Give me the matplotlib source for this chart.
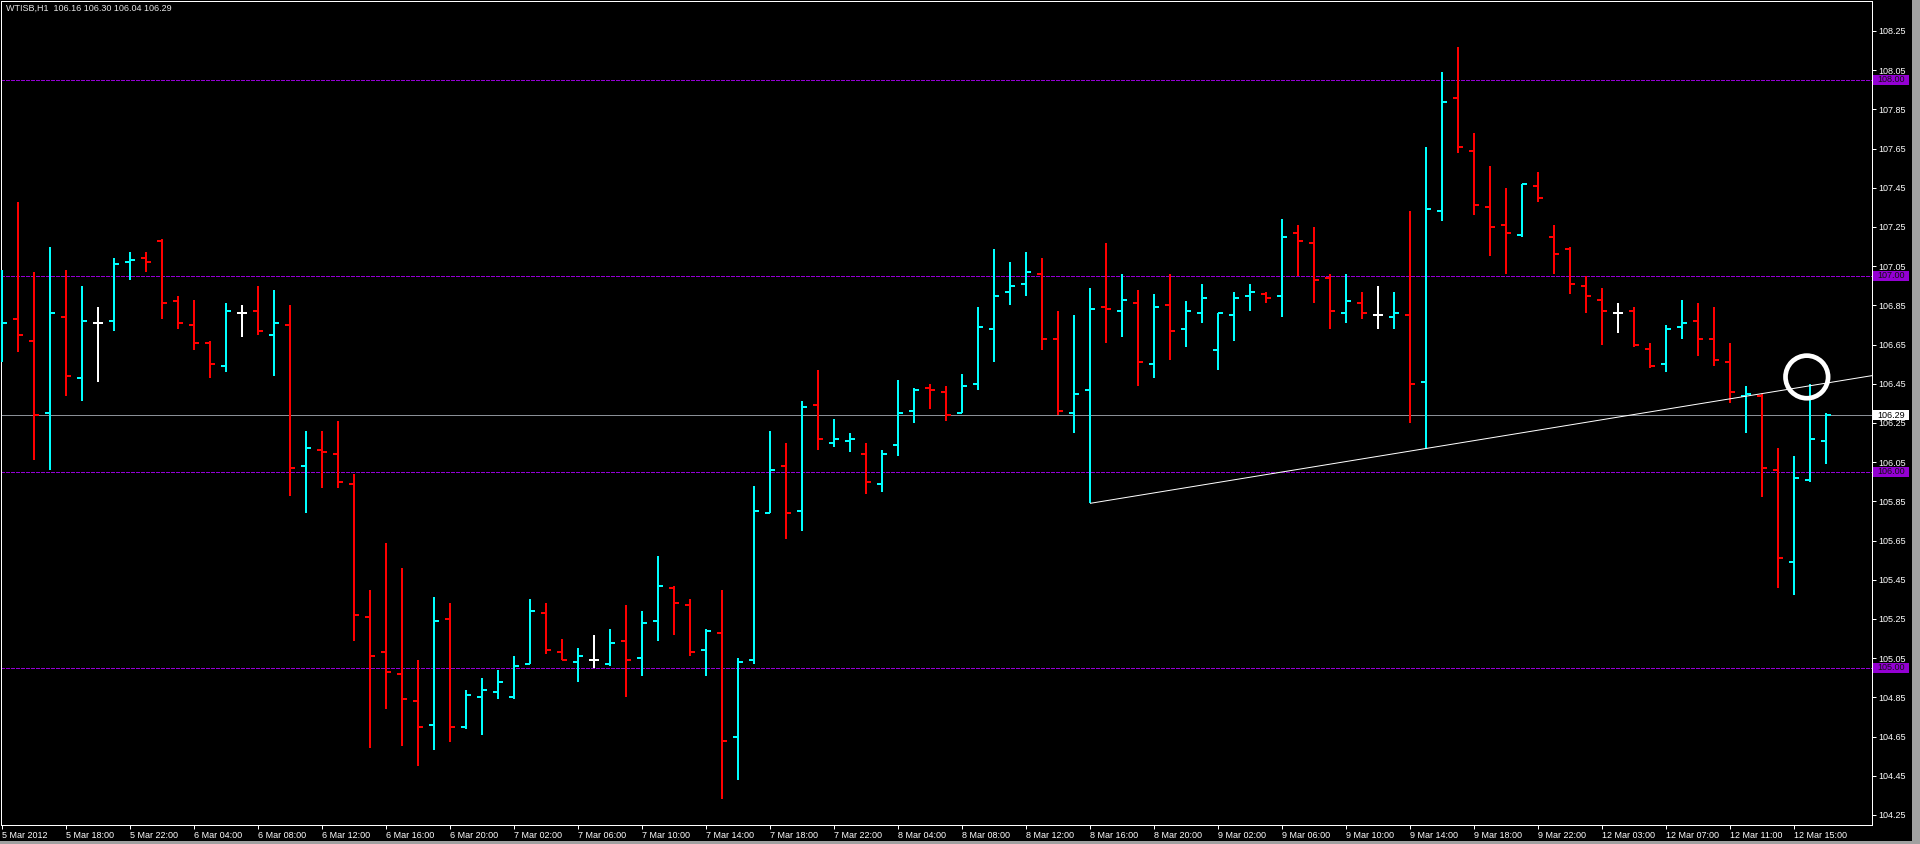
import matplotlib
matplotlib.use('Agg')
import matplotlib.pyplot as plt
from matplotlib.collections import LineCollection
from matplotlib.patches import Rectangle, Ellipse
import matplotlib.transforms as mtransforms
import numpy as np

plt.rcParams['font.family'] = ['Liberation Sans', 'DejaVu Sans']

symbol = "WTISB,H1"

opens = [106.65, 106.78, 106.67, 106.30, 106.79, 106.48, 106.76, 106.77, 107.07, 107.09,
         107.18, 106.87, 106.75, 106.66, 106.54, 106.81, 106.82, 106.70, 106.75, 106.03,
         106.11, 106.09, 105.94, 105.26, 105.08, 104.97, 104.83, 104.71, 105.25, 104.70,
         104.85, 104.88, 104.85, 105.02, 105.28, 105.08, 105.03, 105.04, 105.02, 105.14,
         105.05, 105.24, 105.41, 105.32, 105.09, 105.18, 104.65, 105.04, 105.79, 106.03,
         105.80, 106.34, 106.15, 106.16, 106.09, 105.94, 106.14, 106.31, 106.43, 106.41,
         106.30, 106.45, 106.73, 106.92, 106.96, 107.01, 106.68, 106.30, 106.42, 106.84,
         106.82, 106.86, 106.55, 106.85, 106.73, 106.81, 106.62, 106.80, 106.90, 106.91,
         106.90, 107.22, 107.17, 106.99, 106.81, 106.86, 106.80, 106.79, 106.80, 106.46,
         107.33, 107.91, 107.64, 107.35, 107.26, 107.21, 107.46, 107.20, 107.14, 106.95,
         106.88, 106.81, 106.82, 106.63, 106.55, 106.74, 106.77, 106.68, 106.56, 106.39,
         106.39, 106.01, 105.54, 105.96, 106.16]
highs = [107.03, 107.38, 107.02, 107.15, 107.03, 106.95, 106.84, 107.09, 107.12, 107.12,
         107.19, 106.90, 106.88, 106.67, 106.86, 106.85, 106.95, 106.93, 106.85, 106.21,
         106.21, 106.26, 105.99, 105.40, 105.64, 105.51, 105.04, 105.36, 105.33, 104.89,
         104.95, 104.99, 105.06, 105.35, 105.33, 105.15, 105.10, 105.17, 105.20, 105.32,
         105.29, 105.57, 105.42, 105.35, 105.20, 105.40, 105.05, 105.93, 106.21, 106.15,
         106.36, 106.52, 106.27, 106.20, 106.15, 106.11, 106.47, 106.43, 106.45, 106.44,
         106.50, 106.84, 107.14, 107.07, 107.12, 107.09, 106.82, 106.80, 106.94, 107.17,
         107.01, 106.93, 106.91, 107.01, 106.87, 106.96, 106.81, 106.92, 106.96, 106.92,
         107.29, 107.26, 107.25, 107.01, 107.01, 106.92, 106.95, 106.92, 107.33, 107.66,
         108.04, 108.17, 107.73, 107.56, 107.45, 107.47, 107.53, 107.26, 107.15, 107.00,
         106.94, 106.86, 106.84, 106.66, 106.75, 106.88, 106.86, 106.84, 106.66, 106.44,
         106.40, 106.12, 106.08, 106.45, 106.30]
lows = [106.56, 106.61, 106.06, 106.01, 106.39, 106.36, 106.46, 106.72, 106.98, 107.02,
        106.78, 106.73, 106.62, 106.48, 106.51, 106.69, 106.70, 106.49, 105.88, 105.79,
        105.92, 105.92, 105.14, 104.59, 104.79, 104.60, 104.50, 104.58, 104.62, 104.69,
        104.66, 104.84, 104.84, 105.02, 105.07, 105.04, 104.93, 105.00, 105.01, 104.85,
        104.96, 105.14, 105.17, 105.06, 104.96, 104.33, 104.43, 105.02, 105.79, 105.66,
        105.70, 106.11, 106.13, 106.10, 105.89, 105.90, 106.08, 106.25, 106.32, 106.26,
        106.30, 106.42, 106.56, 106.85, 106.90, 106.62, 106.29, 106.20, 105.84, 106.66,
        106.69, 106.44, 106.48, 106.57, 106.64, 106.76, 106.52, 106.67, 106.82, 106.86,
        106.79, 107.00, 106.86, 106.73, 106.76, 106.78, 106.73, 106.73, 106.25, 106.12,
        107.28, 107.63, 107.31, 107.10, 107.01, 107.20, 107.38, 107.01, 106.91, 106.81,
        106.65, 106.71, 106.64, 106.53, 106.51, 106.68, 106.59, 106.54, 106.35, 106.20,
        105.87, 105.41, 105.37, 105.95, 106.04]
closes = [106.76, 106.70, 106.29, 106.81, 106.49, 106.77, 106.76, 107.06, 107.08, 107.07,
          106.86, 106.76, 106.66, 106.55, 106.82, 106.81, 106.72, 106.76, 106.02, 106.12,
          106.10, 105.95, 105.27, 105.06, 104.98, 104.84, 104.70, 105.24, 104.70, 104.86,
          104.89, 104.93, 105.01, 105.29, 105.09, 105.04, 105.06, 105.04, 105.13, 105.04,
          105.23, 105.42, 105.33, 105.08, 105.19, 104.63, 105.03, 105.80, 106.01, 105.79,
          106.33, 106.17, 106.17, 106.17, 105.95, 106.09, 106.30, 106.42, 106.42, 106.29,
          106.44, 106.74, 106.90, 106.95, 107.02, 106.68, 106.31, 106.40, 106.83, 106.83,
          106.88, 106.56, 106.84, 106.72, 106.82, 106.89, 106.81, 106.89, 106.92, 106.89,
          107.20, 107.18, 106.98, 106.82, 106.87, 106.81, 106.80, 106.81, 106.45, 107.34,
          107.89, 107.66, 107.36, 107.25, 107.22, 107.47, 107.40, 107.11, 106.96, 106.90,
          106.82, 106.81, 106.65, 106.54, 106.73, 106.76, 106.68, 106.57, 106.41, 106.40,
          106.02, 105.56, 105.97, 106.17, 106.29]

xtick_labels = ["5 Mar 2012", "5 Mar 18:00", "5 Mar 22:00", "6 Mar 04:00", "6 Mar 08:00",
                "6 Mar 12:00", "6 Mar 16:00", "6 Mar 20:00", "7 Mar 02:00", "7 Mar 06:00",
                "7 Mar 10:00", "7 Mar 14:00", "7 Mar 18:00", "7 Mar 22:00", "8 Mar 04:00",
                "8 Mar 08:00", "8 Mar 12:00", "8 Mar 16:00", "8 Mar 20:00", "9 Mar 02:00",
                "9 Mar 06:00", "9 Mar 10:00", "9 Mar 14:00", "9 Mar 18:00", "9 Mar 22:00",
                "12 Mar 03:00", "12 Mar 07:00", "12 Mar 11:00", "12 Mar 15:00"]
xtick_step = 4
price_ticks = [104.25, 104.45, 104.65, 104.85, 105.05, 105.25, 105.45, 105.65, 105.85,
               106.05, 106.25, 106.45, 106.65, 106.85, 107.05, 107.25, 107.45, 107.65,
               107.85, 108.05, 108.25]
level_lines = [108.00, 107.00, 106.00, 105.00]
bid_price = 106.29
trend_bars = (68, 89)
circle_center = (112.8, 106.485)

# ---------------- layout ----------------
W, H = 1920, 844
PX = 72.0 / 100.0  # points per pixel
fig = plt.figure(figsize=(W / 100, H / 100), dpi=100, facecolor='black')
ax = fig.add_axes([1 / W, 19 / H, 1871 / W, 824 / H], facecolor='black')
x0 = -1 / 16
ax.set_xlim(x0, x0 + 1871 / 16)
ymin, ymax = 108.25 - 794 / 196, 108.25 + 30 / 196
ax.set_ylim(ymin, ymax)
dy = (ymax - ymin) / 824.0       # data units per pixel (y)
dxa = 1.0 / 1871.0               # axes units per pixel (x)

CYAN, RED, WHITE = '#00ffff', '#ff0000', '#ffffff'
n = len(opens)
idx = np.arange(n)
cols = [CYAN if c > o else (RED if c < o else WHITE) for o, c in zip(opens, closes)]

vsegs = [[(i, l), (i, h)] for i, l, h in zip(idx, lows, highs)]
osegs = [[(i - 0.32, o), (i, o)] for i, o in zip(idx, opens)]
csegs = [[(i, c), (i + 0.32, c)] for i, c in zip(idx, closes)]
lc = LineCollection(vsegs + osegs + csegs, colors=cols * 3, linewidths=2 * PX,
                    capstyle='butt', zorder=3, antialiaseds=False)
ax.add_collection(lc)

# horizontal level lines
for lv in level_lines:
    ax.axhline(lv, color='#9400d3', lw=1 * PX, ls=(0, (3, 2)), zorder=1, antialiased=False)
ax.axhline(bid_price, color='#8a8f96', lw=1 * PX, zorder=1, antialiased=False)

# trend line (ray to the right)
xa, xb = trend_bars
slope = (lows[xb] - lows[xa]) / (xb - xa)
x_end = ax.get_xlim()[1]
ax.plot([xa, x_end], [lows[xa], lows[xa] + slope * (x_end - xa)],
        color='white', lw=1 * PX, zorder=4, solid_capstyle='butt')

# circle marker
r_px = 21.3
ax.add_patch(Ellipse(circle_center, width=2 * r_px / 16, height=2 * r_px * dy,
                     fill=False, edgecolor='white', lw=4.7 * PX, zorder=6))

# axes styling
for s in ax.spines.values():
    s.set_color('white')
    s.set_linewidth(1 * PX)

ax.yaxis.tick_right()
ax.set_yticks(price_ticks)
ax.set_yticklabels([f'{v:.2f}' for v in price_ticks])
ax.tick_params(axis='y', direction='out', length=3 * PX * 1.3, width=1 * PX,
               colors='white', labelsize=6.5, pad=1.5)

xt = idx[::xtick_step][:len(xtick_labels)]
ax.set_xticks(xt)
ax.set_xticklabels(xtick_labels)
ax.tick_params(axis='x', direction='out', length=3 * PX * 1.3, width=1 * PX,
               colors='white', labelsize=6.5, pad=1.5)
for lbl in ax.get_xticklabels():
    lbl.set_horizontalalignment('left')

# price labels on the right scale
trans = mtransforms.blended_transform_factory(ax.transAxes, ax.transData)
bx0 = 1 + 1 * dxa
bw = 36 * dxa
for lv in level_lines:
    ax.add_patch(Rectangle((bx0, lv - 5 * dy), bw, 10 * dy, transform=trans,
                           facecolor='#9400d3', edgecolor='none', clip_on=False, zorder=5))
    ax.text(bx0 + 4 * dxa, lv, f'{lv:.2f}', transform=trans, ha='left', va='center',
            fontsize=6.5, color='#111111', clip_on=False, zorder=6)
ax.add_patch(Rectangle((bx0, bid_price - 5 * dy), bw, 10 * dy, transform=trans,
                       facecolor='white', edgecolor='none', clip_on=False, zorder=5))
ax.text(bx0 + 4 * dxa, bid_price, f'{bid_price:.2f}', transform=trans, ha='left',
        va='center', fontsize=6.5, color='black', clip_on=False, zorder=6)

# header
fig.text(6 / W, 1 - 8 / H,
         f'{symbol}  {opens[-1]:.2f} {highs[-1]:.2f} {lows[-1]:.2f} {closes[-1]:.2f}',
         color='#e6e6e6', fontsize=6.5, ha='left', va='center')

# window border strips
fig.patches.append(Rectangle((1912 / W, 0), 8 / W, 1, transform=fig.transFigure,
                             facecolor='#a0a0a0', edgecolor='none'))
fig.patches.append(Rectangle((0, 0), 1, 3 / H, transform=fig.transFigure,
                             facecolor='#a0a0a0', edgecolor='none'))

fig.savefig('out.png', dpi=100, facecolor='black')
